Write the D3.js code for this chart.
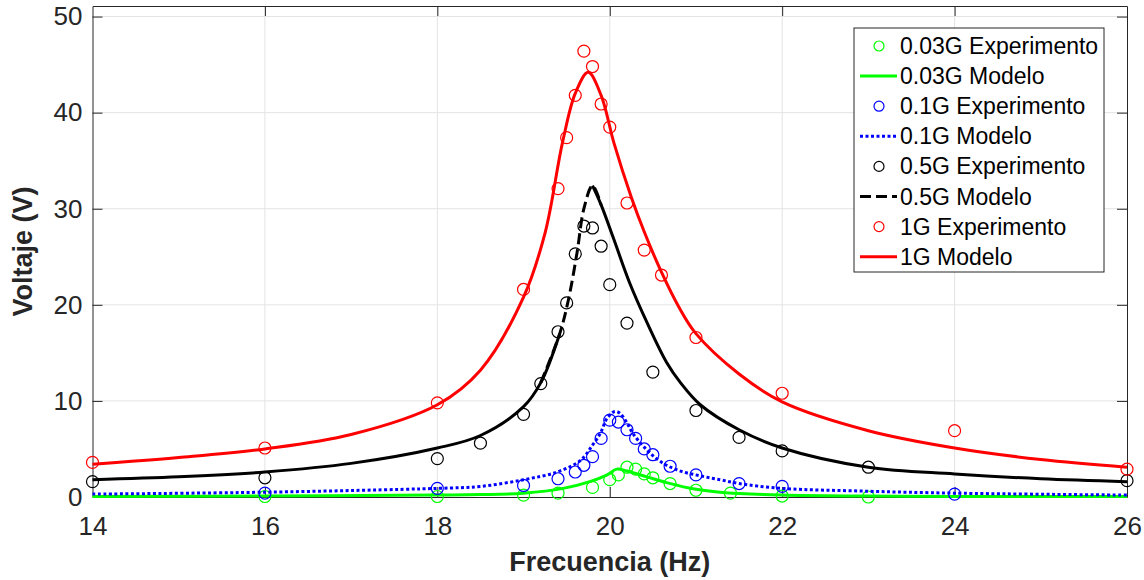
<!DOCTYPE html>
<html>
<head>
<meta charset="utf-8">
<script src="https://cdn.jsdelivr.net/npm/d3@7"></script>
<style>
  body { margin: 0; background: #fff; }
  text { font-family: "Liberation Sans", Arial, sans-serif; fill: #262626; }
</style>
</head>
<body>
<svg id="chart"></svg>
<script>
// --- data ---

// axis ticks
var xTicks = [14, 16, 18, 20, 22, 24, 26];
var yTicks = [0, 10, 20, 30, 40, 50];

// 0.03G
var greenExpF = [16, 18, 19, 19.4, 19.8, 20, 20.1, 20.2, 20.3, 20.4, 20.5, 20.7, 21, 21.4, 22, 23];
var greenExpV = [0.05, 0.05, 0.2, 0.4, 1.0, 1.8, 2.3, 3.1, 2.9, 2.4, 2.0, 1.4, 0.7, 0.4, 0.1, 0.0];
var greenModF = [14, 16, 18, 18.5, 19, 19.46, 19.77, 19.97, 20.08, 20.2, 20.43, 20.66, 21, 21.28, 22, 23, 24, 26];
var greenModV = [0.05, 0.1, 0.2, 0.25, 0.4, 0.9, 1.6, 2.3, 2.9, 2.7, 2.1, 1.5, 0.8, 0.5, 0.2, 0.1, 0.05, 0.05];

// 0.1G
var blueExpF = [16, 18, 19, 19.4, 19.6, 19.7, 19.8, 19.9, 20, 20.1, 20.2, 20.3, 20.4, 20.5, 20.7, 21, 21.5, 22, 24];
var blueExpV = [0.4, 0.9, 1.2, 1.9, 2.6, 3.3, 4.2, 6.1, 8.0, 7.8, 7.0, 6.1, 5.0, 4.4, 3.2, 2.3, 1.4, 1.1, 0.3];
var blueModF = [14, 16, 18, 18.5, 19, 19.39, 19.66, 19.8, 19.89, 19.97, 20.06, 20.12, 20.2, 20.27, 20.43, 20.62, 20.82, 21.05, 21.28, 21.5, 22, 23, 24, 26];
var blueModV = [0.3, 0.5, 0.9, 1.1, 1.8, 2.6, 3.8, 5.4, 6.6, 8.2, 8.9, 8.7, 7.7, 6.6, 4.9, 3.5, 2.7, 2.2, 1.8, 1.4, 0.9, 0.6, 0.4, 0.2];

// 0.5G
var blackExpF = [14, 16, 18, 18.5, 19, 19.2, 19.4, 19.5, 19.6, 19.7, 19.8, 19.9, 20, 20.2, 20.5, 21, 21.5, 22, 23, 26];
var blackExpV = [1.6, 2.0, 4.0, 5.6, 8.6, 11.8, 17.2, 20.2, 25.3, 28.2, 28.0, 26.1, 22.1, 18.1, 13.0, 9.0, 6.2, 4.8, 3.1, 1.7];
var blackModF = [14, 15, 16, 17, 18, 18.5, 19, 19.2, 19.42, 19.52, 19.62, 19.7, 19.8, 19.9, 20.04, 20.23, 20.43, 20.66, 20.82, 21.05, 21.5, 22, 23, 24, 25, 26];
var blackModV = [1.8, 2.1, 2.6, 3.5, 5.1, 6.4, 9.4, 11.9, 17.0, 20.5, 25.4, 30.0, 32.4, 30.4, 27.0, 22.3, 18.2, 14.0, 11.9, 9.6, 7.0, 5.1, 3.1, 2.4, 1.9, 1.6];

// 1G
var redExpF = [14, 16, 18, 19, 19.4, 19.5, 19.6, 19.7, 19.8, 19.9, 20, 20.2, 20.4, 20.6, 21, 22, 24, 26];
var redExpV = [3.6, 5.1, 9.8, 21.6, 32.1, 37.4, 41.8, 46.4, 44.8, 40.9, 38.5, 30.6, 25.7, 23.1, 16.6, 10.8, 6.9, 2.9];
var redModF = [14, 15, 16, 17, 18, 18.5, 19, 19.25, 19.45, 19.6, 19.75, 19.9, 20.05, 20.25, 20.4, 20.6, 20.8, 21, 21.5, 22, 23, 24, 25, 26];
var redModV = [3.4, 4.1, 5.0, 6.5, 9.6, 13.2, 20.8, 27.5, 36.8, 42.0, 44.2, 41.8, 36.8, 31.2, 27.6, 23.4, 19.8, 17.0, 12.8, 9.9, 6.9, 5.1, 3.9, 3.1];

var seriesNames = ["0.03G", "0.1G", "0.5G", "1G"];

// --- layout ---
var width = 1144;
var height = 580;
var plotL = 92.5, plotR = 1127, plotT = 6, plotB = 497;

var svg = d3.select('#chart')
    .attr('width', width)
    .attr('height', height);

var x = d3.scaleLinear().domain([14, 26]).range([plotL, plotR]);
var y = d3.scaleLinear().domain([0, 51.1]).range([plotB, plotT]);

// grid
svg.append('g').selectAll('line')
    .data(xTicks.slice(1, -1))
    .enter().append('line')
    .attr('x1', d => x(d)).attr('x2', d => x(d))
    .attr('y1', plotT).attr('y2', plotB)
    .style('stroke', '#e3e3e3').style('stroke-width', 1);

svg.append('g').selectAll('line')
    .data(yTicks.slice(1))
    .enter().append('line')
    .attr('x1', plotL).attr('x2', plotR)
    .attr('y1', d => y(d)).attr('y2', d => y(d))
    .style('stroke', '#e3e3e3').style('stroke-width', 1);

// axes (box on, ticks inward on all sides)
var axisColor = '#262626';
var tickLen = 10;

var xAxisB = svg.append('g').attr('transform', 'translate(0,' + plotB + ')')
    .call(d3.axisBottom(x).tickValues(xTicks).tickSizeInner(-tickLen).tickSizeOuter(0).tickPadding(20));
var xAxisT = svg.append('g').attr('transform', 'translate(0,' + plotT + ')')
    .call(d3.axisTop(x).tickValues(xTicks).tickSizeInner(-tickLen).tickSizeOuter(0).tickFormat(''));
var yAxisL = svg.append('g').attr('transform', 'translate(' + plotL + ',0)')
    .call(d3.axisLeft(y).tickValues(yTicks).tickSizeInner(-tickLen).tickSizeOuter(0).tickPadding(10));
var yAxisR = svg.append('g').attr('transform', 'translate(' + plotR + ',0)')
    .call(d3.axisRight(y).tickValues(yTicks).tickSizeInner(-tickLen).tickSizeOuter(0).tickFormat(''));

[xAxisB, xAxisT, yAxisL, yAxisR].forEach(function (a) {
    a.selectAll('path, line').style('stroke', axisColor).style('stroke-width', 1);
    a.selectAll('text').style('font-size', '26px').style('fill', axisColor)
        .style('font-family', '"Liberation Sans", Arial, sans-serif');
});
// no tick marks where they would sit on the box edges
xAxisB.selectAll('.tick line').filter(d => d === 14 || d === 26).remove();
xAxisT.selectAll('.tick line').filter(d => d === 14 || d === 26).remove();
yAxisL.selectAll('.tick line').filter(d => d === 0).remove();
yAxisR.selectAll('.tick line').filter(d => d === 0).remove();

// axis labels
svg.append('text')
    .attr('x', (plotL + plotR) / 2).attr('y', 571)
    .attr('text-anchor', 'middle')
    .style('font-size', '27px').style('font-weight', 'bold')
    .text('Frecuencia (Hz)');

svg.append('text')
    .attr('transform', 'translate(32,' + ((plotT + plotB) / 2) + ') rotate(-90)')
    .attr('text-anchor', 'middle')
    .style('font-size', '27px').style('font-weight', 'bold')
    .text('Voltaje (V)');

//
// series
//
var line = d3.line()
    .x(d => x(d[0]))
    .y(d => y(d[1]))
    .curve(d3.curveCatmullRom.alpha(0.5));

function zip(a, b) { return a.map((v, i) => [v, b[i]]); }

function drawExp(F, V, color) {
    svg.append('g').selectAll('circle')
        .data(zip(F, V))
        .enter().append('circle')
        .attr('cx', d => x(d[0])).attr('cy', d => y(d[1]))
        .attr('r', 6)
        .style('fill', 'none').style('stroke', color).style('stroke-width', 1.2);
}

function drawModel(pts, color, dash) {
    svg.append('path')
        .datum(pts)
        .attr('d', line)
        .style('fill', 'none')
        .style('stroke', color)
        .style('stroke-width', 3)
        .style('stroke-dasharray', dash || null);
}

var green = '#00ff00', blue = '#0000ff', black = '#000000', red = '#ff0000';

drawExp(greenExpF, greenExpV, green);
drawModel(zip(greenModF, greenModV), green);

drawExp(blueExpF, blueExpV, blue);
drawModel(zip(blueModF, blueModV), blue, '3,2.5');

drawExp(blackExpF, blackExpV, black);
// the dash pattern only shows up on the steep rising flank in the original
var blackPts = zip(blackModF, blackModV);
drawModel(blackPts.filter(d => d[0] <= 19.42), black);
drawModel(blackPts.filter(d => d[0] >= 19.2 && d[0] <= 19.9), black, '11,5');
drawModel(blackPts.filter(d => d[0] >= 19.8), black);

drawExp(redExpF, redExpV, red);
drawModel(zip(redModF, redModV), red);

//
// legend
//
var legX = 854, legY = 28, legW = 250, legH = 244, rowH = 30.1;
var legend = svg.append('g');
legend.append('rect')
    .attr('x', legX).attr('y', legY).attr('width', legW).attr('height', legH)
    .style('fill', '#fff').style('stroke', axisColor).style('stroke-width', 1);

var legColors = [green, blue, black, red];
var legDash = [null, '3,2.5', '11,5', null];
var legItems = [];
seriesNames.forEach(function (n, i) {
    legItems.push({ label: n + ' Experimento', type: 'exp', color: legColors[i] });
    legItems.push({ label: n + ' Modelo', type: 'mod', color: legColors[i], dash: legDash[i] });
});

var rows = legend.selectAll('g.row')
    .data(legItems)
    .enter().append('g')
    .attr('transform', (d, i) => 'translate(0,' + (legY + 18 + i * rowH) + ')');

rows.filter(d => d.type === 'exp').append('circle')
    .attr('cx', 879).attr('cy', 0).attr('r', 5)
    .style('fill', 'none').style('stroke', d => d.color).style('stroke-width', 1.2);

rows.filter(d => d.type === 'mod').append('line')
    .attr('x1', 860).attr('x2', 897).attr('y1', 0).attr('y2', 0)
    .style('stroke', d => d.color).style('stroke-width', 3)
    .style('stroke-dasharray', d => d.dash);

rows.append('text')
    .attr('x', 900).attr('y', 8)
    .style('font-size', '23px').style('fill', '#000')
    .text(d => d.label);
</script>
</body>
</html>
